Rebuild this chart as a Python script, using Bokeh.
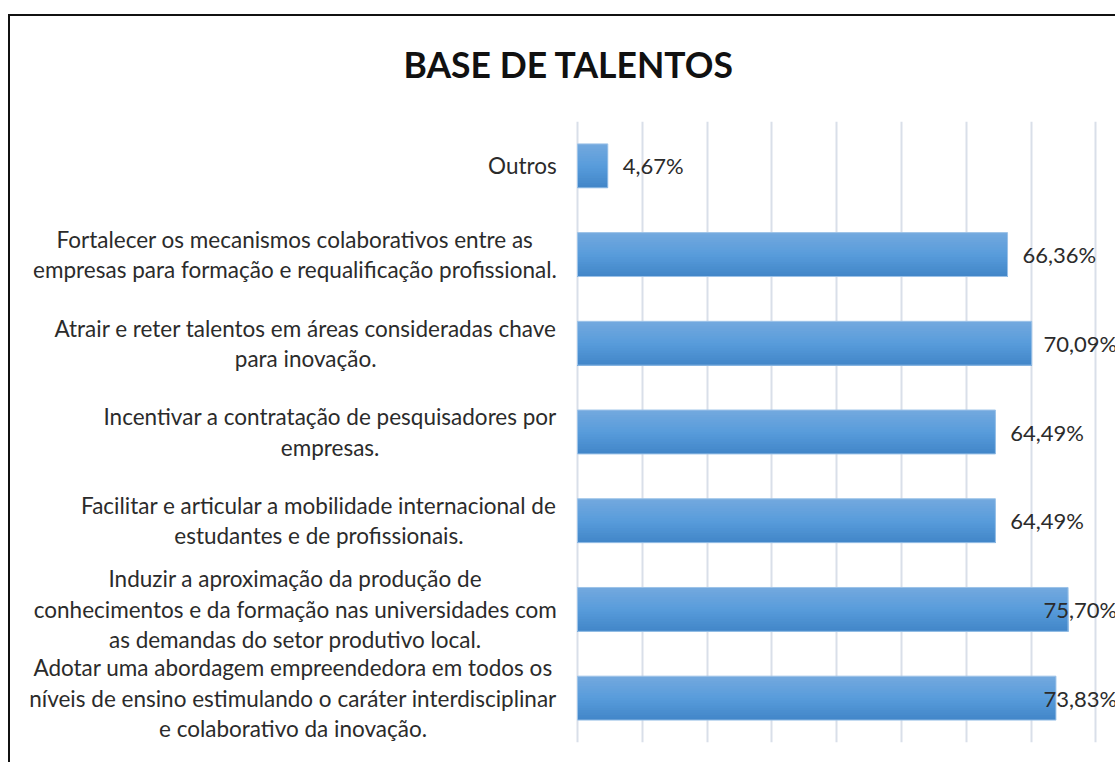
from bokeh.plotting import figure
from bokeh.models import Range1d, FactorRange, Title, ColumnDataSource, FixedTicker, InlineStyleSheet
from bokeh.transform import dodge
from bokeh.core.properties import value
from bokeh.embed import file_html
from bokeh.resources import INLINE

# ---------------- data ----------------
categories = [
    "Adotar uma abordagem empreendedora em todos os\nníveis de ensino estimulando o caráter interdisciplinar\ne colaborativo da inovação.",
    "Induzir a aproximação da produção de\nconhecimentos e da formação nas universidades com\nas demandas do setor produtivo local.",
    "Facilitar e articular a mobilidade internacional de\nestudantes e de profissionais.",
    "Incentivar a contratação de pesquisadores por\nempresas.",
    "Atrair e reter talentos em áreas consideradas chave\npara inovação.",
    "Fortalecer os mecanismos colaborativos entre as\nempresas para formação e requalificação profissional.",
    "Outros",
]
values = [73.83, 75.70, 64.49, 64.49, 70.09, 66.36, 4.67]
value_labels = ["73,83%", "75,70%", "64,49%", "64,49%", "70,09%", "66,36%", "4,67%"]
grid_ticks = [0, 10, 20, 30, 40, 50, 60, 70, 80]
title_text = "BASE DE TALENTOS"

# ---------------- style ----------------
FONT = "Lato"
TEXT_COLOR = "#2b2b2b"
label_offset = 2.3      # gap between bar end and its value label (in %)
label_max_x = 71.9      # value labels are kept inside the chart area
cat_label_x = -3.2      # right edge of the category-label block (in %)

W, H = 1115, 762
p = figure(
    width=W, height=H,
    y_range=FactorRange(*categories),
    x_range=Range1d(-89.04, 83.02),
    output_backend="svg", toolbar_location=None,
    min_border_left=0, min_border_right=0, min_border_top=121, min_border_bottom=20,
)
p.outline_line_color = None
p.background_fill_color = "white"
p.border_fill_color = "white"
p.xaxis.visible = False
p.yaxis.visible = False
p.ygrid.visible = False
p.xgrid.ticker = FixedTicker(ticks=grid_ticks)
p.xgrid.grid_line_color = "#D9DFE9"
p.xgrid.grid_line_width = 2

src = ColumnDataSource(dict(
    cat=categories, val=values, lab=value_labels,
    lx=[min(v + label_offset, label_max_x) for v in values],
    cx=[cat_label_x] * len(categories),
))

# gradient bars: nested rectangles, each one reaching the bar bottom
bar_h = 0.495
n = 18
top = (0x72, 0xA8, 0xDE)
mid = (0x58, 0x9C, 0xDB)
bot = (0x43, 0x87, 0xC9)
def mix(a, b, t):
    return "#%02x%02x%02x" % tuple(int(round(a[k] + (b[k] - a[k]) * t)) for k in range(3))
for i in range(n):
    t = i / (n - 1)
    col = mix(top, mid, t * 2) if t < 0.5 else mix(mid, bot, (t - 0.5) * 2)
    h = bar_h * (1 - i / n)
    off = -i * bar_h / (2 * n)
    p.hbar(y=dodge("cat", off, range=p.y_range), left=0, right="val",
           height=h, source=src, fill_color=col, line_color=None)
p.hbar(y="cat", left=0, right="val", height=bar_h, source=src,
       fill_alpha=0, line_color="#9DC3E8", line_width=1)

# value labels
p.text(x="lx", y="cat", text="lab", source=src,
       text_font=value(FONT), text_font_size="22px", text_color=TEXT_COLOR,
       text_baseline="middle", text_align="left")

# category labels: block right-aligned next to the bars, lines centred
p.text(x="cx", y="cat", text="cat", source=src, anchor="center_right",
       text_font=value(FONT), text_font_size="22.5px", text_color=TEXT_COLOR,
       text_align="center", text_baseline="middle", text_line_height=1.13)

# title
p.title = Title(text=title_text, align="left", offset=403, standoff=71,
                text_font=FONT, text_font_style="bold", text_font_size="35.5px",
                text_color="#111111")

# chart-area border (top and left edges visible in the reference crop)
p.stylesheets = [InlineStyleSheet(css=(
    ":host::after { content: ''; position: absolute; left: 8px; top: 14px; right: 0; bottom: 0;"
    " border-left: 2.5px solid #111; border-top: 2.5px solid #111; pointer-events: none; }"
))]

open("out.html", "w").write(file_html(p, INLINE))
